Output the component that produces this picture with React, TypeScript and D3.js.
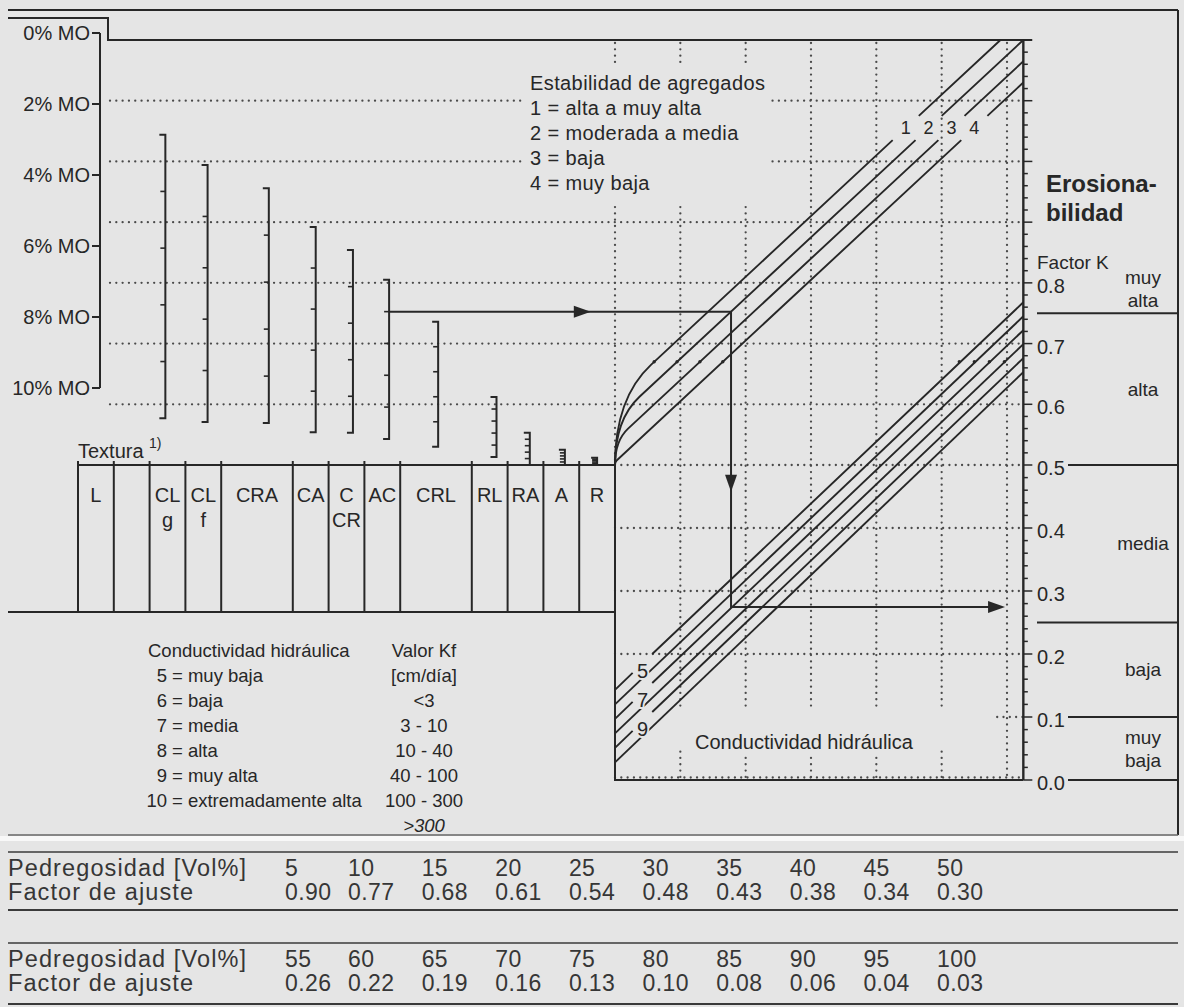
import React from "react";
import * as d3 from "d3";

// ---- Organic matter (MO) axis ----
const moTicks = [0, 2, 4, 6, 8, 10];

// ---- Texture strip: labels (two lines) and relative widths ----
const textureLabels = [["L"], [""], ["CL", "g"], ["CL", "f"], ["CRA"], ["CA"], ["C", "CR"], ["AC"], ["CRL"], ["RL"], ["RA"], ["A"], ["R"]];
const textureWidths = [1, 1, 1, 1, 2, 1, 1, 1, 2, 1, 1, 1, 1];

// ---- MO brackets per texture: position on strip, K at 0 % MO and at 10 % MO ----
const bracketTexture = ["CL g", "CL f", "CRA", "CA", "C", "AC", "CRL", "RL", "RA", "A", "R"];
const bracketPos = [2.44, 3.62, 5.33, 6.64, 7.68, 8.69, 10.06, 11.69, 12.62, 13.6, 14.5];
const bracketKTop = [1.044, 0.994, 0.956, 0.892, 0.854, 0.805, 0.736, 0.612, 0.553, 0.525, 0.512];
const bracketKBottom = [0.577, 0.571, 0.569, 0.554, 0.553, 0.543, 0.53, 0.513, 0.5, 0.5, 0.5];
const bracketMoTicks = [2, 4, 6, 8];

// ---- Aggregate stability lines (K at grid column 0) ----
const stabilityLabels = ["1", "2", "3", "4"];
const stabilityIntercepts = [0.61, 0.575, 0.54, 0.505];
const stabilityLegend = ["Estabilidad de agregados", "1 = alta a muy alta", "2 = moderada a media", "3 = baja", "4 = muy baja"];

// ---- Hydraulic conductivity lines ----
const conductivityLabels = ["5", "6", "7", "8", "9", "10"];
const conductivityIntercepts = [0.143, 0.12, 0.097, 0.074, 0.051, 0.028];
const conductivityNames = ["muy baja", "baja", "media", "alta", "muy alta", "extremadamente alta"];
const kfValues = ["[cm/día]", "<3", "3 - 10", "10 - 40", "40 - 100", "100 - 300", ">300"];

// rise of every nomograph line per grid column
const kLineSlope = 0.1;

// ---- Erodibility (K factor) scale ----
const kTickLabels = [0, 0.1, 0.2, 0.3, 0.4, 0.5, 0.6, 0.7, 0.8];
const erosionBounds = [0, 0.1, 0.25, 0.5, 0.75];
const erosionClassLabels = [["muy", "baja"], ["baja"], ["media"], ["alta"], ["muy", "alta"]];
const erosionLabelK = [0.05, 0.175, 0.375, 0.625, 0.79];

// ---- Worked example ----
const exampleTexture = "AC";
const exampleMO = 2;
const exampleStability = 2;
const exampleConductivity = 7;

// ---- Stoniness adjustment table ----
const stoneVol1 = [5, 10, 15, 20, 25, 30, 35, 40, 45, 50];
const stoneFactor1 = [0.9, 0.77, 0.68, 0.61, 0.54, 0.48, 0.43, 0.38, 0.34, 0.3];
const stoneVol2 = [55, 60, 65, 70, 75, 80, 85, 90, 95, 100];
const stoneFactor2 = [0.26, 0.22, 0.19, 0.16, 0.13, 0.1, 0.08, 0.06, 0.04, 0.03];

const INK = "#272727";
const BG = "#e5e5e5";
const FONT = "'Liberation Sans', Arial, Helvetica, sans-serif";

const dotted = {
  stroke: "#4a4a4a",
  strokeWidth: 2.3,
  strokeLinecap: "round" as const,
  strokeDasharray: "0.01 6.3",
  fill: "none",
};

export default function App() {
  const xU = d3.scaleLinear().domain([0, 6]).range([615, 1007]);
  const yK = d3.scaleLinear().domain([0, 0.5, 1.2]).range([780, 465, 40]);
  const yMO = d3.scaleLinear().domain([0, 10]).range([33, 388]);
  const texTotal = d3.sum(textureWidths);
  const xTex = d3.scaleLinear().domain([0, texTotal]).range([78, 615]);
  const texEdges = [0, ...Array.from(d3.cumsum(textureWidths))];
  const colX = d3.scaleLinear().domain([0, 1, 9]).range([285, 348, 937]);
  const fmt2 = d3.format(".2f");
  const fmt1 = d3.format(".1f");

  const uAxis = 6.25;
  const axisX = xU(uAxis);
  const kTop = 1.2;
  const gapLo = 1.035;
  const gapHi = 1.075;
  const labelK = 1.055;

  // aggregate stability lines (curving out of the texture corner)
  const upperPaths = stabilityIntercepts.map((b) => {
    const e = Math.max(0, (b - 0.5) * 5);
    const kAt = (u: number) => b + kLineSlope * u;
    const uAt = (k: number) => (k - b) / kLineSlope;
    const uEnd = Math.min(uAxis, uAt(kTop));
    const p = d3.path();
    p.moveTo(xU(0), yK(0.5));
    p.quadraticCurveTo(xU(0), yK(b), xU(e), yK(kAt(e)));
    p.lineTo(xU(uAt(gapLo)), yK(gapLo));
    p.moveTo(xU(uAt(gapHi)), yK(gapHi));
    p.lineTo(xU(uEnd), yK(kAt(uEnd)));
    return p.toString();
  });

  // hydraulic conductivity lines
  const lowerPaths = conductivityIntercepts.map((b, i) => {
    const p = d3.path();
    p.moveTo(xU(0), yK(b));
    if (i % 2 === 0) {
      p.lineTo(xU(0.27), yK(b + kLineSlope * 0.27));
      p.moveTo(xU(0.57), yK(b + kLineSlope * 0.57));
    }
    p.lineTo(xU(uAxis), yK(b + kLineSlope * uAxis));
    return p.toString();
  });

  // worked example path
  const exIdx = bracketTexture.indexOf(exampleTexture);
  const kEx = bracketKTop[exIdx] + ((bracketKBottom[exIdx] - bracketKTop[exIdx]) * exampleMO) / 10;
  const uTurn = (kEx - stabilityIntercepts[exampleStability - 1]) / kLineSlope;
  const kOut = conductivityIntercepts[exampleConductivity - 5] + kLineSlope * uTurn;
  const ex0 = xTex(bracketPos[exIdx]);
  const ex1 = xU(uTurn);
  const ey0 = yK(kEx);
  const ey1 = yK(kOut);
  const ex2 = xU(5.97);
  const tip1 = ex0 + 0.59 * (ex1 - ex0);
  const tip2 = ey0 + 0.61 * (ey1 - ey0);
  const arrowRight = (tx: number, ty: number) => `M${tx},${ty}L${tx - 17},${ty - 6}L${tx - 17},${ty + 6}Z`;
  const arrowDown = (tx: number, ty: number) => `M${tx},${ty}L${tx - 6},${ty - 17}L${tx + 6},${ty - 17}Z`;

  const gridK = d3.range(1, 12).map((i) => i / 10);
  const gridU = d3.range(0, 7);
  const axisTicks = d3.range(0, 61).map((i) => ({ k: i * 0.02, major: i % 5 === 0 }));

  const tableRows = (vols: number[], factors: number[], y: number) => (
    <g fill="#363636">
      <g fontSize={23.5} style={{ letterSpacing: "1.1px" }}>
        <text x={8} y={y} dominantBaseline="central">Pedregosidad [Vol%]</text>
        <text x={8} y={y + 24} dominantBaseline="central">Factor de ajuste</text>
      </g>
      <g fontSize={23} style={{ letterSpacing: "0.4px" }}>
        {vols.map((v, i) => (
          <text key={"v" + i} x={colX(i)} y={y} dominantBaseline="central">{v}</text>
        ))}
        {factors.map((f, i) => (
          <text key={"f" + i} x={colX(i)} y={y + 24} dominantBaseline="central">{fmt2(f)}</text>
        ))}
      </g>
    </g>
  );

  return (
    <svg
      width={1184}
      height={1007}
      viewBox="0 0 1184 1007"
      style={{ position: "absolute", left: 0, top: 0, display: "block" }}
      fontFamily={FONT}
    >
      <rect x={0} y={0} width={1184} height={1007} fill={BG} />
      <rect x={0} y={836} width={1184} height={5} fill="#f8f8f8" />

      {/* frame */}
      <g stroke={INK} fill="none">
        <line x1={8} x2={1178} y1={10} y2={10} strokeWidth={2} />
        <polyline points={`8,18 108,18 108,${yK(kTop)} 1032,${yK(kTop)}`} strokeWidth={2} />
        <line x1={1178} x2={1178} y1={10} y2={835} strokeWidth={2} />
        <line x1={8} x2={1178} y1={835} y2={835} strokeWidth={1.3} stroke="#666" />
      </g>

      {/* dotted grid */}
      <g>
        {gridK.map((k) => {
          const x1 = Math.abs(k - 0.1) < 1e-6 ? xU(5.85) : k > 0.55 ? 110 : xU(0);
          return <line key={"h" + k} x1={x1} x2={axisX} y1={yK(k)} y2={yK(k)} style={dotted} />;
        })}
        {gridU.map((u) => {
          if (u === 0) return <line key={"v" + u} x1={xU(u)} x2={xU(u)} y1={yK(kTop) + 3} y2={yK(0.5)} style={dotted} />;
          if (u === 6) return <line key={"v" + u} x1={xU(u)} x2={xU(u)} y1={yK(kTop) + 3} y2={yK(0)} style={dotted} />;
          return (
            <g key={"v" + u}>
              <line x1={xU(u)} x2={xU(u)} y1={yK(kTop) + 3} y2={yK(0.11)} style={dotted} />
              <line x1={xU(u)} x2={xU(u)} y1={yK(0.045)} y2={yK(0)} style={dotted} />
            </g>
          );
        })}
        <line x1={xU(0)} x2={axisX} y1={yK(0) - 2.5} y2={yK(0) - 2.5} style={dotted} />
      </g>

      {/* stability legend */}
      <rect x={525} y={66} width={243} height={136} fill={BG} />
      <g fontSize={20} style={{ letterSpacing: "0.4px" }} fill={INK}>
        {stabilityLegend.map((t, i) => (
          <text key={t} x={530} y={83 + i * 25} dominantBaseline="central">{t}</text>
        ))}
      </g>

      {/* MO axis */}
      <g stroke={INK} strokeWidth={2} fill="none">
        <line x1={100} x2={100} y1={yMO(0)} y2={yMO(10)} />
        {moTicks.map((m) => (
          <line key={m} x1={92} x2={100} y1={yMO(m)} y2={yMO(m)} />
        ))}
      </g>
      <g fontSize={20} fill={INK} textAnchor="end">
        {moTicks.map((m) => (
          <text key={m} x={90} y={yMO(m)} dominantBaseline="central">{`${m}% MO`}</text>
        ))}
      </g>

      {/* MO brackets */}
      <g stroke={INK} strokeWidth={2} fill="none">
        {bracketPos.map((p, i) => {
          const x = xTex(p);
          const yT = yK(bracketKTop[i]);
          const yB = yK(bracketKBottom[i]);
          return (
            <g key={bracketTexture[i]}>
              <path d={`M${x - 6},${yT}H${x}V${yB}H${x - 6}`} />
              {bracketMoTicks.map((m) => {
                const y = yK(bracketKTop[i] + ((bracketKBottom[i] - bracketKTop[i]) * m) / 10);
                return <line key={m} x1={x - 5} x2={x} y1={y} y2={y} strokeWidth={1.6} />;
              })}
            </g>
          );
        })}
      </g>

      {/* texture strip */}
      <text x={78} y={451} fontSize={20} fill={INK} dominantBaseline="central">Textura</text>
      <text x={149} y={443} fontSize={14} fill={INK} dominantBaseline="central">1)</text>
      <g stroke={INK} strokeWidth={2} fill="none">
        <line x1={xTex(0)} x2={xU(0)} y1={yK(0.5)} y2={yK(0.5)} />
        <line x1={8} x2={xU(0)} y1={612} y2={612} />
        {texEdges.slice(0, -1).map((e, i) => (
          <line key={i} x1={xTex(e)} x2={xTex(e)} y1={yK(0.5) - 4} y2={612} />
        ))}
      </g>
      <g fontSize={20} fill={INK} textAnchor="middle">
        {textureLabels.map((lab, i) => {
          const cx = (xTex(texEdges[i]) + xTex(texEdges[i + 1])) / 2;
          return lab.map((l, j) => (
            <text key={i + "-" + j} x={cx} y={495 + j * 25} dominantBaseline="central">{l}</text>
          ));
        })}
      </g>

      {/* lower box and K axis */}
      <g stroke={INK} strokeWidth={2} fill="none">
        <line x1={xU(0)} x2={xU(0)} y1={yK(0.5)} y2={yK(0)} />
        <line x1={xU(0) - 1} x2={axisX} y1={yK(0)} y2={yK(0)} />
        <line x1={axisX} x2={axisX} y1={yK(kTop)} y2={yK(0)} strokeWidth={2.4} />
        {axisTicks.map((t) => (
          <line key={t.k} x1={axisX} x2={axisX + (t.major ? 9 : 4.5)} y1={yK(t.k)} y2={yK(t.k)} strokeWidth={1.5} />
        ))}
      </g>

      {/* nomograph lines */}
      <g stroke={INK} strokeWidth={1.9} fill="none">
        {upperPaths.map((d, i) => <path key={"u" + i} d={d} />)}
        {lowerPaths.map((d, i) => <path key={"l" + i} d={d} />)}
      </g>
      <g fill={INK}>
        {stabilityIntercepts.map((b, i) => {
          const u = (0.67 - b) / kLineSlope;
          return <circle key={"du" + i} cx={xU(u)} cy={yK(0.67)} r={1.7} />;
        })}
        {conductivityIntercepts.map((b, i) => {
          const u = (0.67 - b) / kLineSlope;
          return u < uAxis - 0.1 ? <circle key={"dl" + i} cx={xU(u)} cy={yK(0.67)} r={1.7} /> : null;
        })}
      </g>
      <g fontSize={18} fill={INK} textAnchor="middle">
        {stabilityIntercepts.map((b, i) => (
          <text key={"sl" + i} x={xU((labelK - b) / kLineSlope)} y={yK(labelK)} dominantBaseline="central">
            {stabilityLabels[i]}
          </text>
        ))}
        {conductivityIntercepts.map((b, i) =>
          i % 2 === 0 ? (
            <text
              key={"cl" + i}
              x={xU(0.42)}
              y={yK(b + kLineSlope * 0.42) + 8}
              dominantBaseline="central"
              fontSize={20}
              stroke={BG}
              strokeWidth={4}
              style={{ paintOrder: "stroke" }}
            >
              {conductivityLabels[i]}
            </text>
          ) : null
        )}
      </g>
      <rect x={690} y={730} width={222} height={25} fill={BG} />
      <text x={695} y={742} fontSize={20} fill={INK} dominantBaseline="central">Conductividad hidráulica</text>

      {/* worked example */}
      <g stroke={INK} strokeWidth={2} fill="none">
        <path d={`M${ex0},${ey0}H${ex1}V${ey1}H${ex2 - 4}`} />
      </g>
      <g fill={INK}>
        <path d={arrowRight(tip1, ey0)} />
        <path d={arrowDown(ex1, tip2)} />
        <path d={arrowRight(ex2, ey1)} />
      </g>

      {/* erodibility panel */}
      <g fontSize={24} fontWeight="bold" fill={INK}>
        <text x={1046} y={183} dominantBaseline="central">Erosiona-</text>
        <text x={1046} y={212} dominantBaseline="central">bilidad</text>
      </g>
      <text x={1037} y={262} fontSize={19} fill={INK} dominantBaseline="central">Factor K</text>
      <g fontSize={20} fill={INK}>
        {kTickLabels.map((k) => (
          <text key={k} x={1037} y={yK(k) + 3} dominantBaseline="central">{fmt1(k)}</text>
        ))}
      </g>
      <g stroke={INK} strokeWidth={2}>
        {erosionBounds.map((k) => {
          const labelled = kTickLabels.some((t) => Math.abs(t - k) < 1e-6);
          return <line key={k} x1={labelled ? 1068 : 1037} x2={1178} y1={yK(k)} y2={yK(k)} />;
        })}
      </g>
      <g fontSize={19} fill={INK} textAnchor="middle">
        {erosionClassLabels.map((lab, i) =>
          lab.map((l, j) => (
            <text
              key={i + "-" + j}
              x={1143}
              y={yK(erosionLabelK[i]) + (j - (lab.length - 1) / 2) * 23}
              dominantBaseline="central"
            >
              {l}
            </text>
          ))
        )}
      </g>

      {/* conductivity legend */}
      <g fontSize={18.5} fill={INK}>
        <text x={148} y={650} dominantBaseline="central">Conductividad hidráulica</text>
        <text x={424} y={650} textAnchor="middle" dominantBaseline="central">Valor Kf</text>
        {conductivityNames.map((n, i) => (
          <g key={n}>
            <text x={167} y={675 + i * 25} textAnchor="end" dominantBaseline="central">{conductivityLabels[i]}</text>
            <text x={172} y={675 + i * 25} dominantBaseline="central">{`= ${n}`}</text>
          </g>
        ))}
        {kfValues.map((v, i) => (
          <text
            key={v}
            x={424}
            y={675 + i * 25}
            textAnchor="middle"
            dominantBaseline="central"
            fontStyle={i === kfValues.length - 1 ? "italic" : "normal"}
          >
            {v}
          </text>
        ))}
      </g>

      {/* stoniness table */}
      <g stroke="#3a3a3a" fill="none">
        <line x1={8} x2={1178} y1={852} y2={852} strokeWidth={1.6} />
        <line x1={8} x2={1178} y1={910} y2={910} strokeWidth={2.2} />
        <line x1={8} x2={1178} y1={943} y2={943} strokeWidth={1.6} />
        <line x1={8} x2={1178} y1={1004} y2={1004} strokeWidth={2.2} />
      </g>
      {tableRows(stoneVol1, stoneFactor1, 868)}
      {tableRows(stoneVol2, stoneFactor2, 959)}
    </svg>
  );
}
